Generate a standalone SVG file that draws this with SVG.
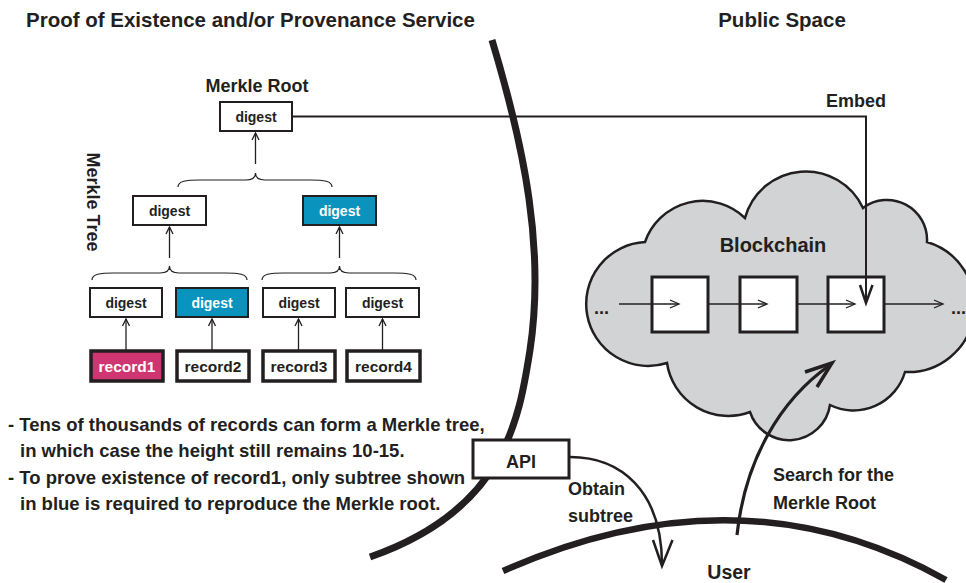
<svg xmlns="http://www.w3.org/2000/svg" width="966" height="583" viewBox="0 0 966 583">
<defs>
<style>
text{font-family:"Liberation Sans",Arial,Helvetica,sans-serif;font-weight:bold;fill:#231f20}
.box{fill:#fff;stroke:#231f20;stroke-width:2}
.rec{fill:#fff;stroke:#231f20;stroke-width:3.5}
.blue{fill:#0a93bd}
.pink{fill:#cf3570}
.thin{fill:none;stroke:#231f20;stroke-width:1.3}
.brace{fill:none;stroke:#231f20;stroke-width:1.2}
.dg{font-size:14px;text-anchor:middle}
.rt{font-size:15.5px;text-anchor:middle}
.lbl{font-size:18px}
.wht{fill:#fff}
.blk{fill:#fff;stroke:#231f20;stroke-width:3}
</style>
<marker id="tip" viewBox="-8 -5 10 10" markerWidth="10" markerHeight="10" refX="0" refY="0" orient="auto" markerUnits="userSpaceOnUse">
<path d="M-7,-3.5 L0,0 L-7,3.5" fill="none" stroke="#231f20" stroke-width="1.3"/>
</marker>
<marker id="tip2" viewBox="-11 -6 13 12" markerWidth="13" markerHeight="12" refX="0" refY="0" orient="auto" markerUnits="userSpaceOnUse">
<path d="M-9,-4 L0,0 L-9,4" fill="none" stroke="#231f20" stroke-width="1.3"/>
</marker>
</defs>
<rect width="966" height="583" fill="#fff"/>

<g id="titles">
<text x="26" y="27" style="font-size:20.5px">Proof of Existence and/or Provenance Service</text>
<text x="782" y="27" style="font-size:20.5px" text-anchor="middle">Public Space</text>
</g>

<g id="boundaries">
<path d="M492,40 C525,150 545,250 530,350 C519,420 505,510 370,557" fill="none" stroke="#231f20" stroke-width="7"/>
<path d="M503,571 Q741,465 946,580" fill="none" stroke="#231f20" stroke-width="6.5"/>
</g>

<g id="cloud">
<path d="M667,363 A62,62 0 1 1 645,242 A61,61 0 0 1 745,218 A63,63 0 0 1 863,208 A40,40 0 0 1 927,242 A66.4,66.4 0 0 1 905,372 A53.7,53.7 0 0 1 830,405 A41.3,41.3 0 0 1 750,412 A62,62 0 0 1 667,363 Z" fill="#d1d3d4" stroke="#231f20" stroke-width="2.5"/>
<text x="773" y="252" text-anchor="middle" style="font-size:20px">Blockchain</text>
</g>

<g id="chain">
<rect class="blk" x="652" y="277" width="56" height="55"/>
<rect class="blk" x="740" y="277" width="57" height="55"/>
<rect class="blk" x="828" y="277" width="56" height="55"/>
<text x="594" y="314" class="lbl">...</text>
<text x="951" y="314" class="lbl">...</text>
</g>

<g id="merkle-root">
<text x="257" y="92" class="lbl" text-anchor="middle">Merkle Root</text>
<rect class="box" x="220" y="102" width="72" height="29"/>
<text x="256" y="122" class="dg">digest</text>
</g>

<g id="merkle-tree-label">
<text transform="translate(87,202) rotate(90)" class="lbl" text-anchor="middle">Merkle Tree</text>
</g>

<g id="digest-l2a">
<rect class="box" x="133" y="196" width="73" height="29"/>
<text x="169.5" y="216" class="dg">digest</text>
</g>
<g id="digest-l2b">
<rect class="box blue" x="303" y="196" width="73" height="29"/>
<text x="339.5" y="216" class="dg wht">digest</text>
</g>

<g id="digest-l3a">
<rect class="box" x="90" y="288" width="72" height="29"/>
<text x="126" y="308" class="dg">digest</text>
</g>
<g id="digest-l3b">
<rect class="box blue" x="176" y="288" width="72" height="29"/>
<text x="212" y="308" class="dg wht">digest</text>
</g>
<g id="digest-l3c">
<rect class="box" x="263" y="288" width="72" height="29"/>
<text x="299" y="308" class="dg">digest</text>
</g>
<g id="digest-l3d">
<rect class="box" x="346" y="288" width="73" height="29"/>
<text x="382.5" y="308" class="dg">digest</text>
</g>

<g id="record1">
<rect class="rec pink" x="91" y="351" width="72" height="30"/>
<text x="127" y="372" class="rt wht">record1</text>
</g>
<g id="record2">
<rect class="rec" x="177" y="351" width="72" height="30"/>
<text x="213" y="372" class="rt">record2</text>
</g>
<g id="record3">
<rect class="rec" x="263" y="351" width="72" height="30"/>
<text x="299" y="372" class="rt">record3</text>
</g>
<g id="record4">
<rect class="rec" x="347" y="351" width="73" height="30"/>
<text x="383.5" y="372" class="rt">record4</text>
</g>

<g id="notes">
<text x="8" y="431" style="font-size:18.5px">- Tens of thousands of records can form a Merkle tree,</text>
<text x="20" y="457" style="font-size:18.5px">in which case the height still remains 10-15.</text>
<text x="8" y="484" style="font-size:18.5px">- To prove existence of record1, only subtree shown</text>
<text x="20" y="510" style="font-size:18.5px">in blue is required to reproduce the Merkle root.</text>
</g>

<g id="api">
<rect x="473" y="440" width="96" height="38" fill="#fff" stroke="#231f20" stroke-width="3"/>
<text x="521" y="468" class="lbl" text-anchor="middle">API</text>
</g>

<g id="user">
<text x="729" y="579" text-anchor="middle" style="font-size:19.5px">User</text>
</g>

<g id="connectors">
<path class="brace" d="M178,187 C178,181 186,180 200,180 L246,180 C252,180 255.5,178 255.5,173 C255.5,178 259,180 265,180 L310,180 C324,180 332,181 332,187"/>
<path class="brace" d="M92,280 C92,274 100,273 114,273 L160,273 C166,273 169.5,271 169.5,266 C169.5,271 173,273 179,273 L225,273 C239,273 247,274 247,280"/>
<path class="brace" d="M262,280 C262,274 270,273 284,273 L330,273 C336,273 339.5,271 339.5,266 C339.5,271 343,273 349,273 L394,273 C408,273 416,274 416,280"/>
<line class="thin" x1="255.5" y1="164" x2="255.5" y2="133" marker-end="url(#tip)"/>
<line class="thin" x1="169.5" y1="258" x2="169.5" y2="227" marker-end="url(#tip)"/>
<line class="thin" x1="339.5" y1="258" x2="339.5" y2="227" marker-end="url(#tip)"/>
<line class="thin" x1="126" y1="350" x2="126" y2="319" marker-end="url(#tip)"/>
<line class="thin" x1="212" y1="350" x2="212" y2="319" marker-end="url(#tip)"/>
<line class="thin" x1="298.5" y1="350" x2="298.5" y2="319" marker-end="url(#tip)"/>
<line class="thin" x1="382.5" y1="350" x2="382.5" y2="319" marker-end="url(#tip)"/>
<line class="thin" x1="619" y1="304" x2="679" y2="304" marker-end="url(#tip2)"/>
<line class="thin" x1="708" y1="304" x2="767" y2="304" marker-end="url(#tip2)"/>
<line class="thin" x1="797" y1="304" x2="855" y2="304" marker-end="url(#tip2)"/>
<line class="thin" x1="884" y1="304" x2="943" y2="304" marker-end="url(#tip2)"/>
<path d="M292,116.5 H866 V303" fill="none" stroke="#231f20" stroke-width="2"/>
<path d="M860,285 L866,303 L872.5,285" fill="none" stroke="#231f20" stroke-width="2.5"/>
<text x="856" y="107" class="lbl" text-anchor="middle">Embed</text>
<path d="M570,457 C620,457 662,490 662,565" fill="none" stroke="#231f20" stroke-width="2.5"/>
<path d="M653,540 L662,566 L672.5,540" fill="none" stroke="#231f20" stroke-width="2.5"/>
<text x="568" y="495" class="lbl">Obtain</text>
<text x="568" y="522" class="lbl">subtree</text>
<path d="M737,535 C745,460 780,400 830,365" fill="none" stroke="#231f20" stroke-width="3.2"/>
<path d="M805,372 L832,363 L817,387" fill="none" stroke="#231f20" stroke-width="3.5"/>
<text x="773" y="481" class="lbl">Search for the</text>
<text x="773" y="509" class="lbl">Merkle Root</text>
</g>
</svg>
